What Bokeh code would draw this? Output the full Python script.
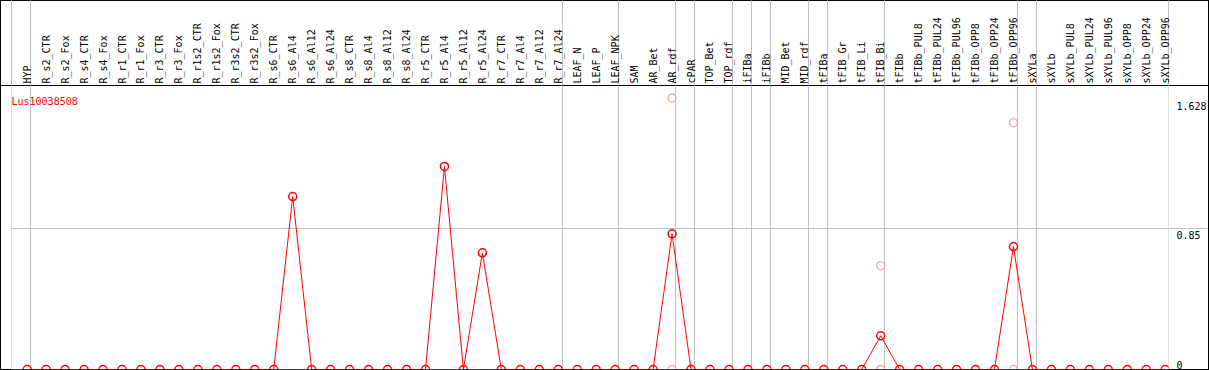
from bokeh.plotting import figure
from bokeh.models import Range1d, FixedTicker, Span, Label, ColumnDataSource
from bokeh.embed import file_html
from bokeh.resources import INLINE

gene = "Lus10038508"

categories = [
    "HYP", "R_s2_CTR", "R_s2_Fox", "R_s4_CTR", "R_s4_Fox", "R_r1_CTR", "R_r1_Fox",
    "R_r3_CTR", "R_r3_Fox", "R_r1s2_CTR", "R_r1s2_Fox", "R_r3s2_CTR", "R_r3s2_Fox",
    "R_s6_CTR", "R_s6_Al4", "R_s6_Al12", "R_s6_Al24", "R_s8_CTR", "R_s8_Al4",
    "R_s8_Al12", "R_s8_Al24", "R_r5_CTR", "R_r5_Al4", "R_r5_Al12", "R_r5_Al24",
    "R_r7_CTR", "R_r7_Al4", "R_r7_Al12", "R_r7_Al24", "LEAF_N", "LEAF_P", "LEAF_NPK",
    "SAM", "AR_Bet", "AR_rdf", "cPAR", "TOP_Bet", "TOP_rdf", "iFIBa", "iFIBb",
    "MID_Bet", "MID_rdf", "tFIBa", "tFIB_Gr", "tFIB_Li", "tFIB_Bi", "tFIBb",
    "tFIBb_PUL8", "tFIBb_PUL24", "tFIBb_PUL96", "tFIBb_OPP8", "tFIBb_OPP24",
    "tFIBb_OPP96", "sXYLa", "sXYLb", "sXYLb_PUL8", "sXYLb_PUL24", "sXYLb_PUL96",
    "sXYLb_OPP8", "sXYLb_OPP24", "sXYLb_OPP96",
]

mean_values = [
    0, 0, 0, 0, 0, 0, 0, 0, 0, 0, 0, 0, 0,
    0, 1.045, 0, 0, 0, 0, 0, 0, 0, 1.227, 0, 0.705,
    0, 0, 0, 0, 0, 0, 0,
    0, 0, 0.82, 0, 0, 0, 0, 0,
    0, 0, 0, 0, 0, 0.204, 0,
    0, 0, 0, 0, 0,
    0.743, 0, 0, 0, 0, 0,
    0, 0, 0,
]

rep_categories = ["AR_rdf", "AR_rdf", "tFIB_Bi", "tFIB_Bi", "tFIB_Bi", "tFIBb_OPP96", "tFIBb_OPP96"]
rep_values = [1.64, 0, 0.627, 0, 0, 1.491, 0]

group_ends = ["HYP", "R_r7_Al24", "LEAF_NPK", "AR_rdf", "cPAR", "TOP_rdf", "iFIBa",
              "iFIBb", "MID_rdf", "tFIBa", "tFIB_Bi", "tFIBb_OPP96", "sXYLa"]

y_ticks = [0, 0.85, 1.628]
y_tick_labels = ["0", "\n0.85", "\n1.628"]
y_gridlines = [0.85]

FONT = "DejaVu Sans Mono"
GRAY = "#c0c0c0"

xs = list(range(len(categories)))
x_start, x_end = -0.826, len(categories) - 1 + 0.174
separators = [x_start + 0.01] + [categories.index(c) + 0.2 for c in group_ends] + [x_end - 0.01]

TOP_H = 85
RIGHT_W = 39

p = figure(
    width=1209, height=370,
    x_range=Range1d(x_start, x_end), y_range=Range1d(0, 1.716),
    x_axis_location="above", y_axis_location="right",
    output_backend="svg", toolbar_location=None,
    min_border_left=11, min_border_right=RIGHT_W, min_border_top=TOP_H, min_border_bottom=1,
)
p.outline_line_color = None
p.background_fill_color = "white"
p.border_fill_color = None
p.styles = {
    "box-shadow": "inset 0 0 0 1px black",
    "background": f"linear-gradient(black, black) 0 {TOP_H}px / 100% 1px no-repeat, white",
}

# x axis (categories, vertical labels on top); minor ticks extend separators upward
xa = p.xaxis[0]
xa.ticker = FixedTicker(ticks=xs, minor_ticks=separators)
xa.major_label_overrides = {i: c for i, c in enumerate(categories)}
xa.major_label_orientation = "vertical"
xa.major_label_text_font = FONT
xa.major_label_text_font_size = "10px"
xa.major_label_text_color = "black"
xa.major_tick_out = 0
xa.major_tick_in = 0
xa.minor_tick_out = TOP_H
xa.minor_tick_in = 0
xa.minor_tick_line_color = GRAY
xa.major_label_standoff = 2 - TOP_H
xa.axis_line_color = "black"
xa.axis_line_width = 1

# y axis on the right; minor tick extends the 0.85 gridline
ya = p.yaxis[0]
ya.ticker = FixedTicker(ticks=y_ticks, minor_ticks=y_gridlines)
ya.major_label_overrides = {t: s for t, s in zip(y_ticks, y_tick_labels)}
ya.major_label_text_font = FONT
ya.major_label_text_font_size = "10px"
ya.major_label_text_color = "black"
ya.major_tick_out = 0
ya.major_tick_in = 0
ya.minor_tick_out = RIGHT_W
ya.minor_tick_in = 0
ya.minor_tick_line_color = GRAY
ya.major_label_standoff = 8 - RIGHT_W
ya.axis_line_color = None

p.xgrid.ticker = FixedTicker(ticks=separators)
p.xgrid.grid_line_color = GRAY
p.ygrid.ticker = FixedTicker(ticks=y_gridlines)
p.ygrid.grid_line_color = GRAY

p.add_layout(Span(location=0, dimension="width", line_color="black", line_width=1))

# replicates (faded)
rep_src = ColumnDataSource(dict(x=[categories.index(c) for c in rep_categories], y=rep_values))
p.scatter("x", "y", source=rep_src, marker="circle", size=8, fill_color=None,
          line_color="#f09a9a", line_width=1.2)

# mean line with markers
src = ColumnDataSource(dict(x=xs, y=mean_values))
p.line("x", "y", source=src, line_color="red", line_width=1)
p.scatter("x", "y", source=src, marker="circle", size=8, fill_color=None,
          line_color="red", line_width=1.5)

p.add_layout(Label(x=x_start, y=1.621, text=gene, text_font=FONT, text_font_size="10px",
                   text_color="red", text_baseline="alphabetic"))

open("out.html", "w").write(file_html(p, INLINE))
